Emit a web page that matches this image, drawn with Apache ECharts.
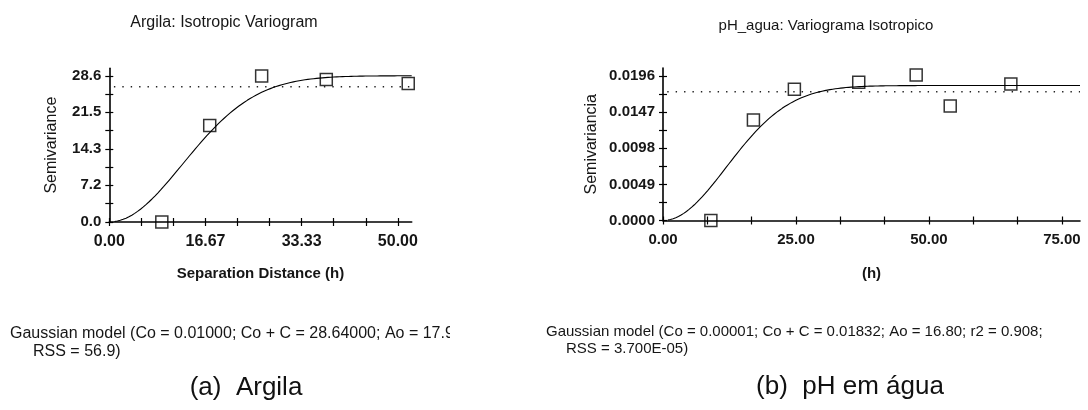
<!DOCTYPE html>
<html>
<head>
<meta charset="utf-8">
<script src="https://cdn.jsdelivr.net/npm/echarts@6/dist/echarts.min.js"></script>
<style>
  html, body { margin: 0; padding: 0; background: #fff; }
  #chart { width: 1088px; height: 410px; }
</style>
</head>
<body>
<div id="chart"></div>
<script>
// ---- Argila: experimental variogram ----
const argilaLag   = [9.1, 17.4, 26.4, 37.6, 51.8];
const argilaGamma = [0.0, 18.9, 28.6, 27.9, 27.1];
const argilaSampleVariance = 26.5;
const argilaNugget = 0.01;
const argilaSill   = 28.64;
const argilaRange  = 17.9;
const argilaXTickLabels = [0.00, 16.67, 33.33, 50.00];
const argilaYTickLabels = [0.0, 7.2, 14.3, 21.5, 28.6];

// ---- pH em agua: experimental variogram ----
const phLag   = [9.0, 17.0, 24.7, 36.8, 47.6, 54.0, 65.4];
const phGamma = [0.0, 0.01364, 0.01781, 0.01876, 0.01975, 0.01554, 0.01853];
const phSampleVariance = 0.01748;
const phNugget = 0.00001;
const phSill   = 0.01832;
const phRange  = 16.80;
const phXTickLabels = [0.00, 25.00, 50.00, 75.00];
const phYTickLabels = [0.0000, 0.0049, 0.0098, 0.0147, 0.0196];

const FONT = '"Liberation Sans", Arial, sans-serif';
const INK = '#161616';

// Gaussian variogram model: g(h) = Co + C * (1 - exp(-h^2 / Ao^2))
function gaussianModel(co, sill, ao, hStart, hEnd, step) {
  const pts = [];
  for (let h = hStart; h <= hEnd + 1e-9; h += step) {
    pts.push([h, co + (sill - co) * (1 - Math.exp(-(h * h) / (ao * ao)))]);
  }
  return pts;
}

// major ticks plus evenly spaced minor ticks between each pair of labels
function withMinorTicks(labels, parts) {
  const out = [];
  for (let i = 0; i < labels.length; i++) {
    out.push(labels[i]);
    if (i < labels.length - 1) {
      for (let k = 1; k < parts; k++) {
        out.push(labels[i] + (labels[i + 1] - labels[i]) * k / parts);
      }
    }
  }
  return out;
}

// each axis is drawn twice: outer ticks with labels, inner ticks only -> cross ticks
function axisPair(pos, gridIndex, max, labels, parts, decimals, name, nameGap, labelSize, nameSize) {
  const ticks = withMinorTicks(labels, parts);
  const tickLine = { color: '#000', width: 1.2 };
  const outer = {
    type: 'value', gridIndex, min: 0, max, position: pos,
    splitLine: { show: false },
    axisLine: { show: true, onZero: false, lineStyle: { color: '#000', width: 1.6 } },
    axisTick: { show: true, inside: false, length: 4, customValues: ticks, lineStyle: tickLine },
    axisLabel: {
      show: true, customValues: labels, margin: pos === 'left' ? 8 : 12,
      formatter: v => Number(v).toFixed(decimals),
      fontFamily: FONT, fontSize: labelSize, fontWeight: 'bold', color: INK
    },
    name, nameLocation: 'middle', nameGap,
    nameRotate: pos === 'left' ? 90 : 0,
    nameTextStyle: { fontFamily: FONT, fontSize: nameSize, color: INK, fontWeight: pos === 'left' ? 'normal' : 'bold' }
  };
  const inner = {
    type: 'value', gridIndex, min: 0, max, position: pos,
    splitLine: { show: false },
    axisLine: { show: false },
    axisTick: { show: true, inside: true, length: 4, customValues: ticks, lineStyle: tickLine },
    axisLabel: { show: false }
  };
  return [outer, inner];
}

const argilaXMax = 52.4, argilaYMax = 30.1;
const phXMax = 78.4, phYMax = 0.0207;

const xAxes = [
  ...axisPair('bottom', 0, argilaXMax, argilaXTickLabels, 3, 2, 'Separation Distance (h)', 44, 16, 15),
  ...axisPair('bottom', 1, phXMax, phXTickLabels, 3, 2, '(h)', 46, 15, 15)
];
const yAxes = [
  ...axisPair('left', 0, argilaYMax, argilaYTickLabels, 2, 1, 'Semivariance', 50, 15, 16),
  ...axisPair('left', 1, phYMax, phYTickLabels, 2, 4, 'Semivariancia', 63, 15, 16)
];

const squareStyle = { color: 'rgba(0,0,0,0)', borderColor: '#000', borderWidth: 1.5 };

function panelSeries(xi, yi, lags, gammas, sampleVar, co, sill, ao, xMax) {
  return [
    {
      type: 'line', xAxisIndex: xi, yAxisIndex: yi,
      data: [[0.8, sampleVar], [xMax, sampleVar]],
      showSymbol: false, silent: true,
      lineStyle: { color: '#222', width: 1.6, type: [1.4, 7] }
    },
    {
      type: 'line', xAxisIndex: xi, yAxisIndex: yi,
      data: gaussianModel(co, sill, ao, 0.9, xMax, 0.25),
      showSymbol: false, silent: true,
      lineStyle: { color: '#000', width: 1.1 }
    },
    {
      type: 'scatter', xAxisIndex: xi, yAxisIndex: yi,
      data: lags.map((h, i) => [h, gammas[i]]),
      symbol: 'rect', symbolSize: 12, itemStyle: squareStyle, z: 5
    }
  ];
}

const chart = echarts.init(document.getElementById('chart'), null, { renderer: 'canvas' });
chart.setOption({
  animation: false,
  backgroundColor: '#fff',
  grid: [
    { left: 109.3, top: 68.3, width: 302.4, height: 153.7 },
    { left: 663, top: 68, width: 417, height: 152.5 }
  ],
  xAxis: xAxes,
  yAxis: yAxes,
  series: [
    ...panelSeries(0, 0, argilaLag, argilaGamma, argilaSampleVariance, argilaNugget, argilaSill, argilaRange, argilaXMax),
    ...panelSeries(2, 2, phLag, phGamma, phSampleVariance, phNugget, phSill, phRange, phXMax)
  ],
  graphic: [
    { type: 'text', x: 224, y: 23, style: { text: 'Argila: Isotropic Variogram', font: '16px ' + FONT, fill: INK, align: 'center', verticalAlign: 'middle' } },
    { type: 'text', x: 826, y: 26, style: { text: 'pH_agua: Variograma Isotropico', font: '15px ' + FONT, fill: INK, align: 'center', verticalAlign: 'middle' } },
    { type: 'text', x: 10, y: 334, style: { text: 'Gaussian model (Co = 0.01000; Co + C = 28.64000; Ao = 17.9', font: '16px ' + FONT, fill: INK, align: 'left', verticalAlign: 'middle' } },
    { type: 'text', x: 33, y: 352, style: { text: 'RSS = 56.9)', font: '16px ' + FONT, fill: INK, align: 'left', verticalAlign: 'middle' } },
    { type: 'text', x: 546, y: 332, style: { text: 'Gaussian model (Co = 0.00001; Co + C = 0.01832; Ao = 16.80; r2 = 0.908;', font: '15px ' + FONT, fill: INK, align: 'left', verticalAlign: 'middle' } },
    { type: 'text', x: 566, y: 349, style: { text: 'RSS = 3.700E-05)', font: '15px ' + FONT, fill: INK, align: 'left', verticalAlign: 'middle' } },
    { type: 'text', x: 246, y: 388, style: { text: '(a)  Argila', font: '26px ' + FONT, fill: '#111', align: 'center', verticalAlign: 'middle' } },
    { type: 'text', x: 850, y: 387, style: { text: '(b)  pH em água', font: '26px ' + FONT, fill: '#111', align: 'center', verticalAlign: 'middle' } },
    // the left caption is cut off at the panel edge
    { type: 'rect', shape: { x: 450, y: 322, width: 92, height: 24 }, style: { fill: '#fff' } }
  ]
});
</script>
</body>
</html>
